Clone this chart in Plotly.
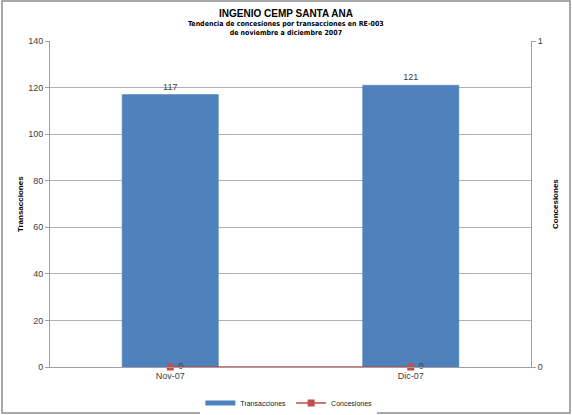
import plotly.graph_objects as go

months = ['Nov-07', 'Dic-07']
transacciones = [117, 121]
concesiones = [0, 0]

W, H = 572, 415
L, R, T, B = 50, 41, 41, 48
pw, ph = W - L - R, H - T - B


def main():
    fig = go.Figure()
    fig.add_trace(
        go.Bar(
            x=months,
            y=transacciones,
            name='Transacciones',
            legendgroup='t',
            showlegend=False,
            marker=dict(color='#4F81BD', line=dict(color='#4A7EBB', width=0.5)),
            width=0.4,
            text=transacciones,
            textposition='outside',
            textfont=dict(size=9, color='#404040'),
            cliponaxis=False,
        )
    )
    # legend swatch like Excel's (wide, flat)
    fig.add_trace(
        go.Scatter(
            x=[None], y=[None], name='Transacciones', legendgroup='t',
            mode='lines', line=dict(color='#4F81BD', width=5),
        )
    )
    fig.add_trace(
        go.Scatter(
            x=months,
            y=concesiones,
            name='Concesiones',
            yaxis='y2',
            mode='lines+markers+text',
            line=dict(color='#BE4B48', width=1.5),
            marker=dict(symbol='square', size=7, color='#C0504D'),
            text=[' ' + str(v) for v in concesiones],
            textposition='middle right',
            textfont=dict(size=9, color='#404040'),
            cliponaxis=False,
        )
    )
    fig.update_layout(
        width=W,
        height=H,
        margin=dict(l=L, r=R, t=T, b=B, autoexpand=False),
        paper_bgcolor='white',
        plot_bgcolor='white',
        font=dict(family='Liberation Sans, Arial', size=9, color='#404040'),
        showlegend=True,
        legend=dict(
            orientation='h', x=0.505, xanchor='center',
            xref='container', yref='container',
            y=(H - 403) / H, yanchor='middle',
            font=dict(size=7, color='#202020'),
            itemwidth=30,
        ),
        xaxis=dict(
            showline=True, linecolor='#A0A0A0', linewidth=1, automargin=False,
            ticks='', tickfont=dict(size=9, color='#404040'),
        ),
        yaxis=dict(
            range=[0, 140], dtick=20, showgrid=True, gridcolor='#B0B0B0',
            gridwidth=1, showline=True, linecolor='#A0A0A0', automargin=False,
            ticks='outside', ticklen=4, tickcolor='#A0A0A0',
            tickfont=dict(size=9, color='#404040'), zeroline=False,
        ),
        yaxis2=dict(
            range=[0, 1], dtick=1, overlaying='y', side='right', automargin=False,
            showgrid=False, showline=True, linecolor='#A0A0A0',
            ticks='outside', ticklen=4, tickcolor='#A0A0A0',
            tickfont=dict(size=9, color='#404040'), zeroline=False,
        ),
        annotations=[
            dict(text='<b>INGENIO CEMP SANTA ANA</b>', xref='paper', yref='paper',
                 x=(286 - L) / pw, y=1 + (41 - 13) / ph,
                 xanchor='center', yanchor='middle', showarrow=False,
                 font=dict(size=10, color='black', family='Liberation Sans, Arial')),
            dict(text='<b>Tendencia de concesiones por transacciones en RE-003<br>de noviembre a diciembre 2007</b>',
                 xref='paper', yref='paper',
                 x=(286 - L) / pw, y=1 + (41 - 28) / ph,
                 xanchor='center', yanchor='middle', showarrow=False,
                 font=dict(size=7, color='black',
                           family='Liberation Sans Narrow, Arial Narrow, DejaVu Sans Condensed, Liberation Sans')),
            dict(text='<b>Transacciones</b>', xref='paper', yref='paper',
                 x=-(L - 20) / pw, y=0.5, textangle=-90, showarrow=False,
                 xanchor='center', yanchor='middle',
                 font=dict(size=8, color='black')),
            dict(text='<b>Concesiones</b>', xref='paper', yref='paper',
                 x=1 + (555 - L - pw) / pw, y=0.5, textangle=-90, showarrow=False,
                 xanchor='center', yanchor='middle',
                 font=dict(size=8, color='black')),
        ],
        shapes=[
            dict(type='rect', xref='paper', yref='paper',
                 x0=-(L - 2) / pw, x1=1 + (R - 2) / pw,
                 y0=-(B - 2) / ph, y1=1 + (T - 1) / ph,
                 line=dict(color='#8C8C8C', width=1.5), layer='below'),
        ],
    )
    fig.write_html('out.html', config={'displayModeBar': False},
                   post_script="document.body.style.margin='0';")


if __name__ == '__main__':
    main()
